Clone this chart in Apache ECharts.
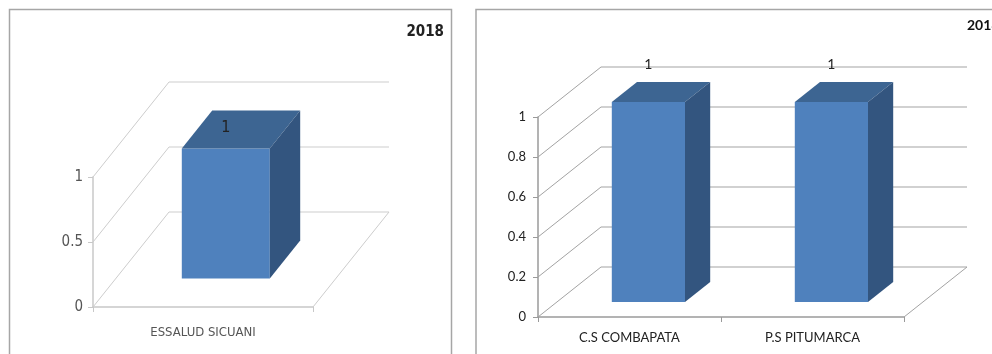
<!DOCTYPE html>
<html>
<head>
<meta charset="utf-8">
<script src="https://cdn.jsdelivr.net/npm/echarts@6/dist/echarts.min.js"></script>
<style>
html, body { margin: 0; padding: 0; background: #fff; }
#chart { width: 992px; height: 354px; }
</style>
</head>
<body>
<div id="chart"></div>
<script>
// left panel
var leftCategories = ['ESSALUD SICUANI'];
var leftValues = [1];
var leftTicks = [0, 0.5, 1];
// right panel
var rightCategories = ['C.S COMBAPATA', 'P.S PITUMARCA'];
var rightValues = [1, 1];
var rightTicks = [0, 0.2, 0.4, 0.6, 0.8, 1];
var yearLabel = '2018';

var narrow = '"Liberation Sans Narrow", "DejaVu Sans Condensed", sans-serif';
var calibriLike = 'Lato, "Open Sans", sans-serif';

var FRONT = '#4f81bd', TOP = '#3d6592', SIDE = '#33557f';

// back wall / floor lines, one polyline per value tick
function wallRenderer(dx, dy, color) {
    return function (params, api) {
        var cs = params.coordSys;
        var v = api.value(1);
        var y = api.coord([0, v])[1];
        var x0 = cs.x, x1 = cs.x + cs.width;
        var kids = [{
            type: 'polyline',
            shape: { points: [[x0, y], [x0 + dx, y - dy], [x1 + dx, y - dy]] },
            style: { stroke: color, fill: null, lineWidth: 1 }
        }];
        if (v === 0) {
            kids.push({
                type: 'line',
                shape: { x1: x1, y1: y, x2: x1 + dx, y2: y - dy },
                style: { stroke: color, lineWidth: 1 }
            });
        }
        return { type: 'group', children: kids };
    };
}

// fake 3d column: front face, top and right side
function barRenderer(dx, dy, labelGap, labelFont) {
    return function (params, api) {
        var idx = api.value(0), val = api.value(1);
        var base = api.coord([idx, 0]);
        var top = api.coord([idx, val]);
        var w = api.size([1, 0])[0] * 0.4;
        var fx = base[0] + dx * 0.3 - w / 2;
        var fy0 = base[1] - dy * 0.3;
        var fy1 = top[1] - dy * 0.3;
        var bx = dx * 0.4, by = dy * 0.4;
        return {
            type: 'group',
            children: [
                { type: 'rect', shape: { x: fx, y: fy1, width: w, height: fy0 - fy1 }, style: { fill: FRONT } },
                { type: 'polygon', shape: { points: [[fx, fy1], [fx + w, fy1], [fx + w + bx, fy1 - by], [fx + bx, fy1 - by]] }, style: { fill: TOP } },
                { type: 'polygon', shape: { points: [[fx + w, fy1], [fx + w + bx, fy1 - by], [fx + w + bx, fy0 - by], [fx + w, fy0]] }, style: { fill: SIDE } },
                { type: 'text', style: { x: fx + w / 2, y: fy1 - labelGap, text: String(val), align: 'center', verticalAlign: 'middle', fill: '#222', font: labelFont } }
            ]
        };
    };
}

var chart = echarts.init(document.getElementById('chart'));

chart.setOption({
    animation: false,
    backgroundColor: '#fff',
    grid: [
        { left: 93, top: 177, width: 220, height: 130 },
        { left: 538, top: 117, width: 366, height: 200 }
    ],
    xAxis: [
        {
            gridIndex: 0, type: 'category', data: leftCategories, boundaryGap: true,
            axisLine: { lineStyle: { color: '#c8c8c8', width: 1.5 } },
            axisTick: { show: true, length: 5, alignWithLabel: false, interval: 0, lineStyle: { color: '#c8c8c8' } },
            axisLabel: { margin: 19, color: '#555', fontFamily: narrow, fontSize: 13 },
            splitLine: { show: false }
        },
        {
            gridIndex: 1, type: 'category', data: rightCategories, boundaryGap: true,
            axisLine: { lineStyle: { color: '#9a9a9a', width: 1.5 } },
            axisTick: { show: true, length: 5, alignWithLabel: false, interval: 0, lineStyle: { color: '#9a9a9a' } },
            axisLabel: { margin: 14, color: '#222', fontFamily: calibriLike, fontSize: 13 },
            splitLine: { show: false }
        }
    ],
    yAxis: [
        {
            gridIndex: 0, type: 'value', min: 0, max: 1, interval: 0.5,
            axisLine: { show: true, lineStyle: { color: '#c8c8c8', width: 1.5 } },
            axisTick: { show: true, length: 5, lineStyle: { color: '#c8c8c8' } },
            axisLabel: { margin: 10, color: '#555', fontFamily: narrow, fontSize: 15 },
            splitLine: { show: false }
        },
        {
            gridIndex: 1, type: 'value', min: 0, max: 1, interval: 0.2,
            axisLine: { show: true, lineStyle: { color: '#9a9a9a', width: 1.5 } },
            axisTick: { show: true, length: 5, lineStyle: { color: '#9a9a9a' } },
            axisLabel: { margin: 12, color: '#222', fontFamily: calibriLike, fontSize: 13 },
            splitLine: { show: false }
        }
    ],
    series: [
        {
            type: 'custom', xAxisIndex: 0, yAxisIndex: 0, z: 1,
            renderItem: wallRenderer(76, 95, '#cdcdcd'),
            data: leftTicks.map(function (v) { return [0, v]; })
        },
        {
            type: 'custom', xAxisIndex: 1, yAxisIndex: 1, z: 1,
            renderItem: wallRenderer(63, 50, '#a3a3a3'),
            data: rightTicks.map(function (v) { return [0, v]; })
        },
        {
            type: 'custom', xAxisIndex: 0, yAxisIndex: 0, z: 3,
            renderItem: barRenderer(76, 95, 21, '16px ' + narrow),
            data: leftValues.map(function (v, i) { return [i, v]; })
        },
        {
            type: 'custom', xAxisIndex: 1, yAxisIndex: 1, z: 3,
            renderItem: barRenderer(63, 50, 38, '14px ' + calibriLike),
            data: rightValues.map(function (v, i) { return [i, v]; })
        }
    ],
    graphic: [
        { type: 'rect', z: 0, shape: { x: 9.5, y: 9.5, width: 442, height: 400 }, style: { fill: null, stroke: '#a6a6a6', lineWidth: 1.5 } },
        { type: 'rect', z: 0, shape: { x: 476, y: 9.5, width: 600, height: 400 }, style: { fill: null, stroke: '#a6a6a6', lineWidth: 1.5 } },
        { type: 'text', z: 5, style: { x: 444, y: 32, text: yearLabel, align: 'right', verticalAlign: 'middle', fill: '#222', font: 'bold 15px ' + narrow } },
        { type: 'text', z: 5, style: { x: 967, y: 25, text: yearLabel, align: 'left', verticalAlign: 'middle', fill: '#111', font: 'bold 14px ' + calibriLike } }
    ]
});
</script>
</body>
</html>
